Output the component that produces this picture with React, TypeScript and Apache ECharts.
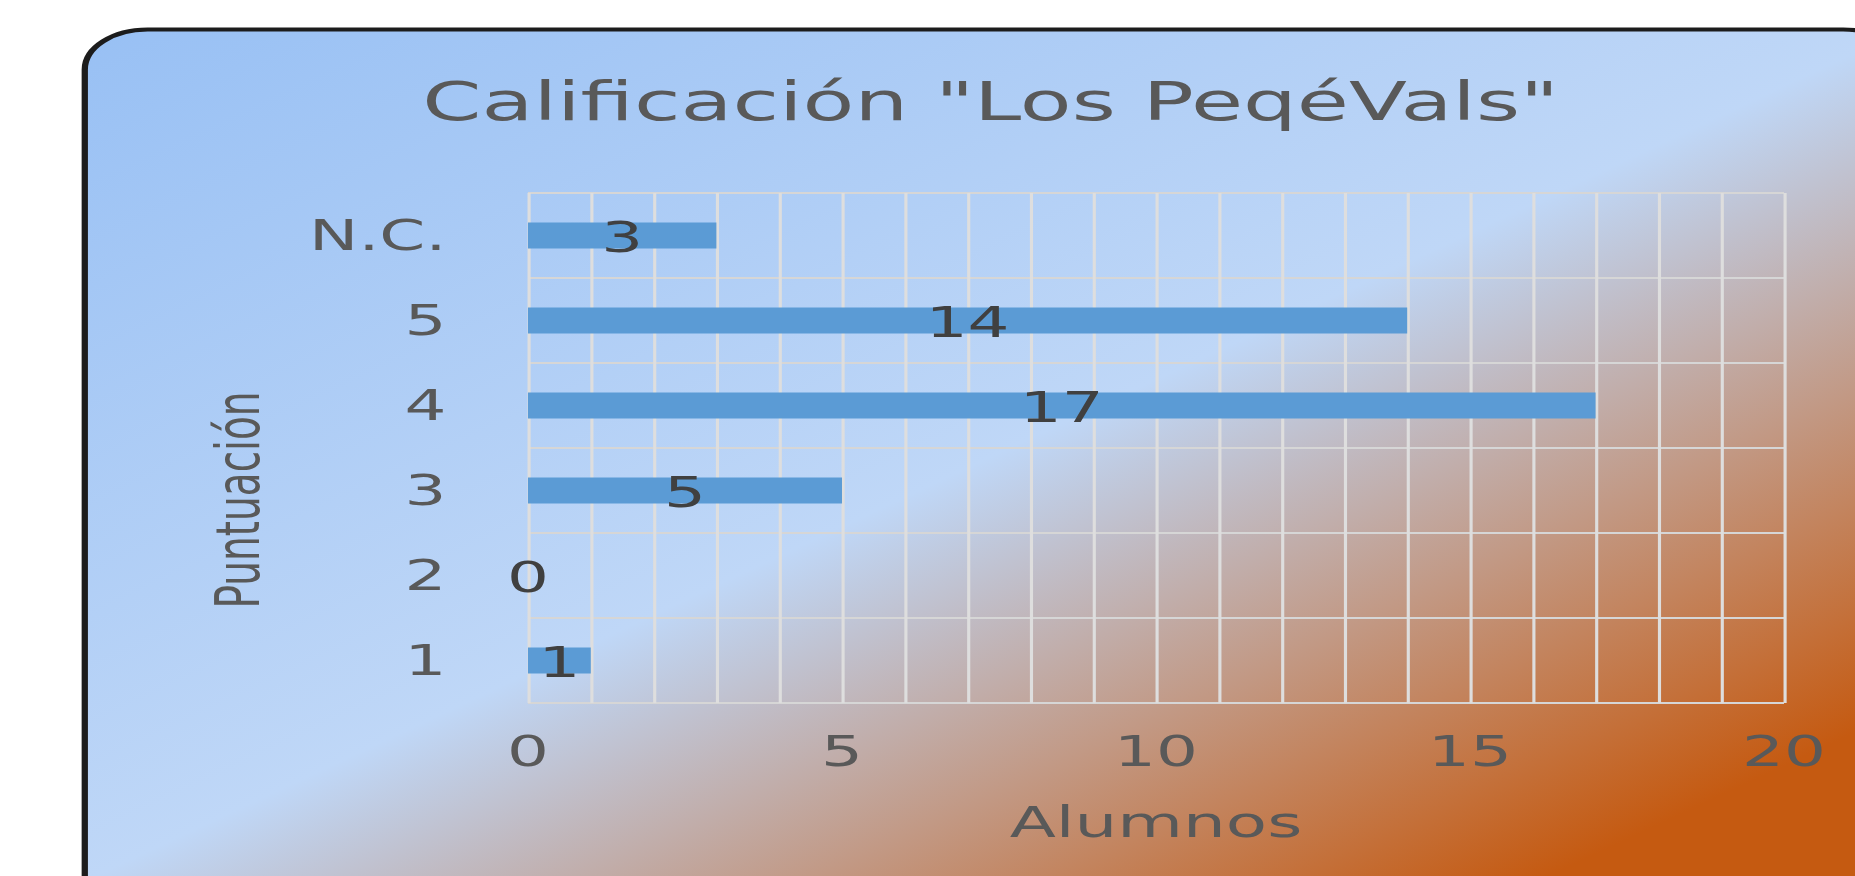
import React, { useEffect, useRef } from 'react';
import * as echarts from 'echarts';

// ---- data ----
const categories = ['1', '2', '3', '4', '5', 'N.C.'];
const alumnos = [1, 0, 5, 17, 14, 3];
const xLabelTicks = [0, 5, 10, 15, 20];
const titleText = 'Calificación "Los PeqéVals"';
const xName = 'Alumnos';
const yName = 'Puntuación';

// The reference picture is stretched horizontally; reproduce it by drawing
// narrower and scaling the chart box along x.
const STRETCH = 1.57;
const FULL_W = 1855;
const FULL_H = 876;
const PRE_W = FULL_W / STRETCH;
const FONT = 'DejaVu Sans';

export default function App() {
  const ref = useRef<HTMLDivElement>(null);

  useEffect(() => {
    if (!ref.current) return;
    const chart = echarts.init(ref.current, null, { renderer: 'svg' });
    chart.setOption({
      animation: false,
      graphic: [
        {
          type: 'rect',
          z: -10,
          silent: true,
          shape: { x: 54, y: 29.5, width: 1160, height: 885, r: 40 },
          style: {
            fill: {
              type: 'linear',
              x: 54.1,
              y: 29,
              x2: 785,
              y2: 1024,
              global: true,
              colorStops: [
                { offset: 0, color: '#98c0f4' },
                { offset: 0.556, color: '#bfd7f7' },
                { offset: 1, color: '#c55a11' },
              ],
            },
            stroke: '#1c1c1c',
            lineWidth: 4,
          },
        },
        {
          type: 'text',
          x: 631,
          y: 101,
          style: {
            text: titleText,
            fontSize: 54,
            fontFamily: FONT,
            fill: '#595959',
            align: 'center',
            verticalAlign: 'middle',
            textAlign: 'center',
            textVerticalAlign: 'middle',
          },
        },
        {
          type: 'text',
          x: 151,
          y: 500,
          rotation: Math.PI / 2,
          style: {
            text: yName,
            fontSize: 39,
            fontFamily: FONT,
            fill: '#595959',
            align: 'center',
            verticalAlign: 'middle',
            textAlign: 'center',
            textVerticalAlign: 'middle',
          },
        },
      ],
      grid: { left: 336.3, top: 193, width: 800, height: 510 },
      xAxis: {
        type: 'value',
        min: 0,
        max: 20,
        interval: 1,
        axisLine: { show: false },
        axisTick: { show: false },
        splitLine: { show: true, lineStyle: { color: '#dedede', width: 2 } },
        axisLabel: {
          fontSize: 42,
          fontFamily: FONT,
          color: '#595959',
          margin: 28,
          formatter: (v: number) => (xLabelTicks.includes(v) ? String(v) : ''),
        },
        name: xName,
        nameLocation: 'middle',
        nameGap: 97,
        nameTextStyle: { fontSize: 43, fontFamily: FONT, color: '#595959' },
      },
      yAxis: {
        type: 'category',
        data: categories,
        axisLine: { show: false },
        axisTick: { show: false },
        splitLine: { show: true, lineStyle: { color: '#d6d6d6', width: 2 } },
        axisLabel: { fontSize: 42, fontFamily: FONT, color: '#595959', margin: 52 },
      },
      series: [
        {
          type: 'bar',
          data: alumnos,
          barWidth: 26,
          itemStyle: { color: '#5b9bd5' },
          label: {
            show: true,
            position: 'inside',
            fontSize: 42,
            fontFamily: FONT,
            color: '#404040',
            offset: [0, 2],
          },
        },
      ],
    });
    return () => chart.dispose();
  }, []);

  return (
    <div
      style={{
        position: 'absolute',
        left: 0,
        top: 0,
        width: FULL_W,
        height: FULL_H,
        overflow: 'hidden',
        background: '#ffffff',
      }}
    >
      <div
        ref={ref}
        style={{
          width: PRE_W,
          height: FULL_H,
          transform: `scaleX(${STRETCH})`,
          transformOrigin: '0 0',
        }}
      />
    </div>
  );
}
